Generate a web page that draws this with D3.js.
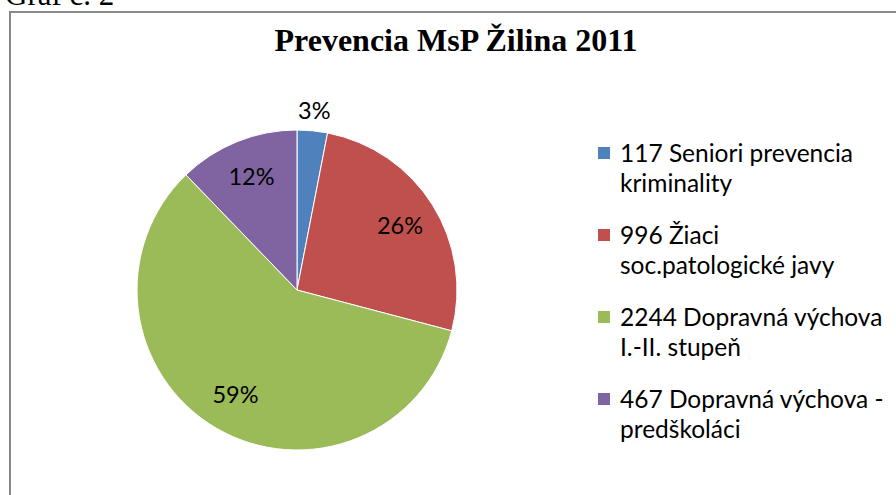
<!DOCTYPE html>
<html>
<head>
<meta charset="utf-8">
<script src="https://cdn.jsdelivr.net/npm/d3@7"></script>
<style>
  body { margin: 0; background: #fff; }
  svg { display: block; }
</style>
</head>
<body>
<div id="chart"></div>
<script>
// data
var categories = ["117 Seniori prevencia kriminality", "996 Žiaci soc.patologické javy",
                  "2244 Dopravná výchova I.-II. stupeň", "467 Dopravná výchova - predškoláci"];
var legendLines = [["117 Seniori prevencia", "kriminality"],
                   ["996 Žiaci", "soc.patologické javy"],
                   ["2244 Dopravná výchova", "I.-II. stupeň"],
                   ["467 Dopravná výchova -", "predškoláci"]];
var values = [117, 996, 2244, 467];
var colors = ["#4F81BD", "#C0504D", "#9BBB59", "#8064A2"];
var title = "Prevencia MsP Žilina 2011";
var caption = "Graf č. 2";

var width = 896, height = 495;
var cx = 297, cy = 290, radius = 160;
var labelFont = "Lato, 'Open Sans', sans-serif";

var svg = d3.select("#chart").append("svg")
    .attr("width", width)
    .attr("height", height);

// caption above the frame (cut off at the top)
svg.append("text")
    .attr("x", 5)
    .attr("y", 5)
    .attr("font-family", "'Liberation Serif', 'Times New Roman', serif")
    .attr("font-size", 31)
    .attr("fill", "#000")
    .text(caption);

// chart frame
svg.append("rect")
    .attr("x", 10)
    .attr("y", 12)
    .attr("width", width)
    .attr("height", height)
    .attr("fill", "#fff")
    .attr("stroke", "#898989")
    .attr("stroke-width", 2);

// title
svg.append("text")
    .attr("x", 456)
    .attr("y", 51)
    .attr("text-anchor", "middle")
    .attr("font-family", "'Liberation Serif', 'Times New Roman', serif")
    .attr("font-weight", "bold")
    .attr("font-size", 32)
    .attr("fill", "#000")
    .text(title);

var total = d3.sum(values);
var color = d3.scaleOrdinal().domain(categories).range(colors);

var pie = d3.pie().sort(null).value(function(d) { return d; });
var arcs = pie(values);

var arc = d3.arc().innerRadius(0).outerRadius(radius);
var inLabel = d3.arc().innerRadius(radius * 0.76).outerRadius(radius * 0.76);
var outLabel = d3.arc().innerRadius(radius + 20).outerRadius(radius + 20);

var g = svg.append("g")
    .attr("transform", "translate(" + cx + "," + cy + ")");

g.selectAll("path")
    .data(arcs)
  .enter().append("path")
    .attr("d", arc)
    .attr("fill", function(d, i) { return color(categories[i]); })
    .attr("stroke", "#fff")
    .attr("stroke-width", 1);

g.selectAll(".lbl")
    .data(arcs)
  .enter().append("text")
    .attr("class", "lbl")
    .attr("transform", function(d) {
      var small = d.value / total < 0.05;
      var p = (small ? outLabel : inLabel).centroid(d);
      return "translate(" + p[0] + "," + p[1] + ")";
    })
    .attr("dy", "0.35em")
    .attr("text-anchor", "middle")
    .attr("font-family", labelFont)
    .attr("font-size", 23.5)
    .attr("fill", "#000")
    .text(function(d) { return Math.round(d.value / total * 100) + "%"; });

// legend
var legend = svg.append("g")
    .attr("transform", "translate(598,0)");

var item = legend.selectAll(".item")
    .data(legendLines)
  .enter().append("g")
    .attr("class", "item")
    .attr("transform", function(d, i) { return "translate(0," + (162 + i * 82) + ")"; });

item.append("rect")
    .attr("x", 0)
    .attr("y", -15)
    .attr("width", 12)
    .attr("height", 12)
    .attr("fill", function(d, i) { return colors[i]; });

item.append("text")
    .attr("font-family", labelFont)
    .attr("font-size", 24.5)
    .attr("fill", "#000")
    .selectAll("tspan")
    .data(function(d) { return d; })
  .enter().append("tspan")
    .attr("x", 22)
    .attr("y", function(d, j) { return j * 30; })
    .text(function(d) { return d; });
</script>
</body>
</html>
